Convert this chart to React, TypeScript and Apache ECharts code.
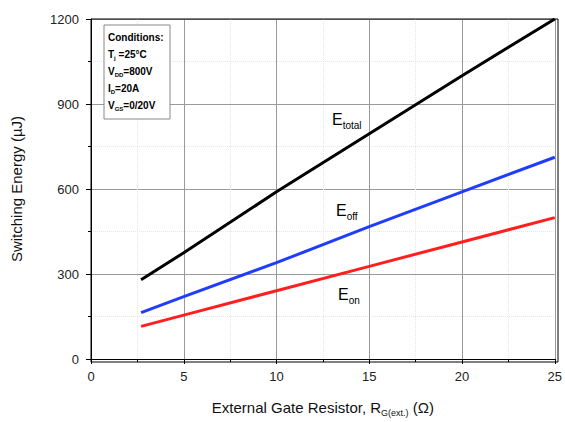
import React, { useEffect, useRef } from "react";
import * as echarts from "echarts";

const rg = [2.7, 5, 10, 15, 20, 25];
const eTotal = [280, 375, 590, 795, 1000, 1200];
const eOff = [164, 220, 340, 467, 590, 712];
const eOn = [115, 155, 241, 327, 413, 499];
const seriesNames = ["E_total", "E_off", "E_on"];
const seriesColors = ["#000000", "#1f3cff", "#ff1f1f"];

export default function App() {
  const ref = useRef<HTMLDivElement>(null);
  useEffect(() => {
    if (!ref.current) return;
    const chart = echarts.init(ref.current, undefined, { renderer: "svg" });
    const font = "Liberation Sans, Arial, sans-serif";
    const mk = (vals: number[]) => rg.map((x, i) => [x, vals[i]]);
    const datas = [eTotal, eOff, eOn];
    const labRich = {
      b: { fontSize: 16, fontFamily: font, color: "#000" },
      s: { fontSize: 10, fontFamily: font, color: "#000", padding: [12, 0, 0, 0] },
    };
    const condRich = {
      b: { fontSize: 10, fontWeight: "bold", fontFamily: font, color: "#000" },
      s: { fontSize: 6, fontWeight: "bold", fontFamily: font, color: "#000", padding: [7, 0, 0, 0] },
    };
    chart.setOption({
      animation: false,
      grid: { left: 91, right: 7, top: 19, bottom: 60, show: false },
      xAxis: {
        type: "value",
        min: 0,
        max: 25,
        interval: 5,
        name: "External Gate Resistor, R{sub|G(ext.)} (Ω)",
        nameLocation: "middle",
        nameGap: 39,
        nameTextStyle: {
          fontSize: 15,
          fontFamily: font,
          color: "#111",
          rich: {
            sub: { fontSize: 9, fontFamily: font, color: "#111", padding: [10, 0, 0, 0] },
          },
        },
        axisLine: { show: true, onZero: false, lineStyle: { color: "#000", width: 1 } },
        axisTick: { show: true, inside: false, length: 5, lineStyle: { color: "#000" } },
        minorTick: { show: true, splitNumber: 2, length: 3, lineStyle: { color: "#000" } },
        axisLabel: { fontSize: 13, fontFamily: font, color: "#222", margin: 11 },
        splitLine: { show: true, lineStyle: { color: "#9a9a9a", width: 1 } },
        minorSplitLine: { show: true, lineStyle: { color: "#e6e6e6", type: "dotted" } },
      },
      yAxis: {
        type: "value",
        min: 0,
        max: 1200,
        interval: 300,
        name: "Switching Energy (µJ)",
        nameLocation: "middle",
        nameGap: 67,
        nameTextStyle: { fontSize: 15, fontFamily: font, color: "#111" },
        axisLine: { show: true, onZero: false, lineStyle: { color: "#000", width: 1 } },
        axisTick: { show: true, inside: false, length: 5, lineStyle: { color: "#000" } },
        minorTick: { show: true, splitNumber: 2, length: 3, lineStyle: { color: "#000" } },
        axisLabel: {
          fontSize: 13,
          fontFamily: font,
          color: "#222",
          margin: 12,
          formatter: (v: number) => String(v),
        },
        splitLine: { show: true, lineStyle: { color: "#9a9a9a", width: 1 } },
        minorSplitLine: { show: true, lineStyle: { color: "#e6e6e6", type: "dotted" } },
      },
      series: datas.map((d, i) => ({
        name: seriesNames[i],
        type: "line",
        data: mk(d),
        showSymbol: false,
        symbol: "none",
        lineStyle: { color: seriesColors[i], width: 3 },
        z: 5,
      })),
      graphic: [
        {
          type: "rect",
          shape: { x: 91, y: 19, width: 467, height: 343 },
          style: { fill: "none", stroke: "#000", lineWidth: 1 },
          z: 10,
          silent: true,
        },
        {
          type: "rect",
          shape: { x: 104, y: 25, width: 66, height: 94 },
          style: { fill: "#fff", stroke: "#888", lineWidth: 1 },
          z: 20,
        },
        {
          type: "text",
          x: 108,
          y: 32,
          z: 21,
          style: { text: "{b|Conditions:}", rich: condRich },
        },
        {
          type: "text",
          x: 108,
          y: 48,
          z: 21,
          style: { text: "{b|T}{s|j}{b| =25°C}", rich: condRich },
        },
        {
          type: "text",
          x: 108,
          y: 65,
          z: 21,
          style: { text: "{b|V}{s|DD}{b|=800V}", rich: condRich },
        },
        {
          type: "text",
          x: 108,
          y: 82,
          z: 21,
          style: { text: "{b|I}{s|D}{b|=20A}", rich: condRich },
        },
        {
          type: "text",
          x: 108,
          y: 99,
          z: 21,
          style: { text: "{b|V}{s|GS}{b|=0/20V}", rich: condRich },
        },
        {
          type: "text",
          x: 332,
          y: 108,
          z: 21,
          style: { text: "{b|E}{s|total}", rich: labRich },
        },
        {
          type: "text",
          x: 336,
          y: 199,
          z: 21,
          style: { text: "{b|E}{s|off}", rich: labRich },
        },
        {
          type: "text",
          x: 338,
          y: 283,
          z: 21,
          style: { text: "{b|E}{s|on}", rich: labRich },
        },
      ],
    });
    return () => chart.dispose();
  }, []);
  return (
    <div
      ref={ref}
      style={{ position: "absolute", left: 0, top: 0, width: 565, height: 422 }}
    />
  );
}
